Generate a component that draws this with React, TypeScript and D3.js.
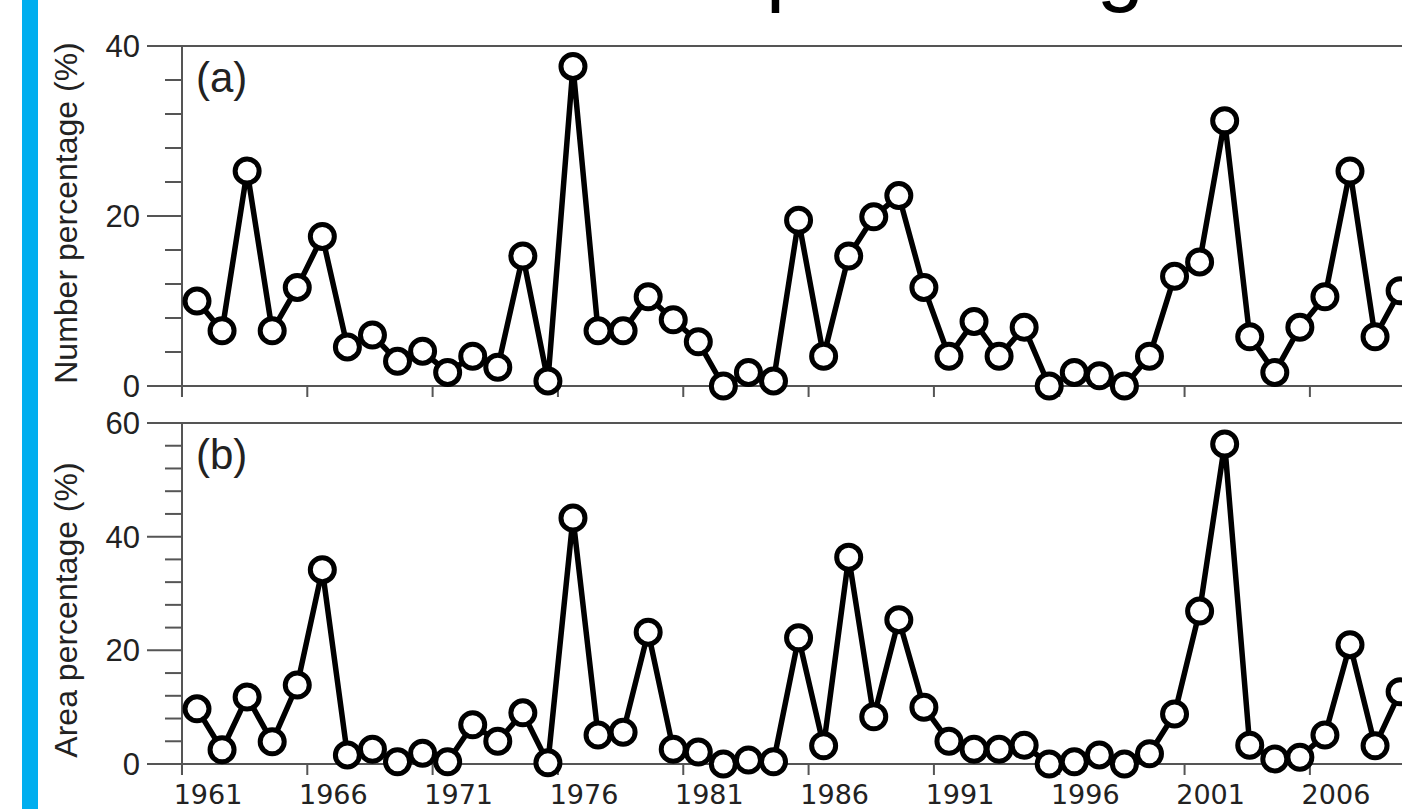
import React from 'react'
import * as d3 from 'd3'

// years on the category axis
const years = d3.range(1961, 2010)
const yearLabels = ['1961', '1966', '1971', '1976', '1981', '1986', '1991', '1996', '2001', '2006']

// (a) number percentage (%)
const numberPct = [
  10.0, 6.5, 25.3, 6.5, 11.6, 17.6, 4.6, 6.0, 2.9, 4.1,
  1.6, 3.5, 2.2, 15.3, 0.6, 37.6, 6.5, 6.5, 10.5, 7.8,
  5.2, 0.0, 1.6, 0.6, 19.5, 3.5, 15.3, 19.9, 22.4, 11.6,
  3.5, 7.6, 3.5, 6.9, 0.0, 1.6, 1.2, 0.0, 3.5, 12.9,
  14.6, 31.2, 5.8, 1.6, 6.9, 10.5, 25.3, 5.8, 11.2,
]

// (b) area percentage (%)
const areaPct = [
  9.7, 2.5, 11.8, 3.9, 13.9, 34.2, 1.6, 2.6, 0.4, 1.9,
  0.4, 6.9, 4.0, 9.0, 0.2, 43.3, 5.1, 5.6, 23.2, 2.6,
  2.1, 0.0, 0.7, 0.4, 22.2, 3.2, 36.4, 8.3, 25.4, 10.0,
  4.0, 2.6, 2.6, 3.3, 0.0, 0.4, 1.6, 0.0, 1.8, 8.8,
  26.9, 56.3, 3.3, 0.9, 1.2, 5.1, 21.0, 3.2, 12.7,
]

const majorA = [0, 20, 40]
const minorA = [4, 8, 12, 16, 24, 28, 32, 36]
const majorB = [0, 20, 40, 60]
const minorB = [4, 8, 12, 16, 24, 28, 32, 36, 44, 48, 52, 56]

const W = 1402
const H = 809
const axisColor = '#555'
const sans = 'Liberation Sans, Arial, sans-serif'
const x = d3.scaleLinear().domain([1961, 2007]).range([197, 1350])
const xLeft = 182

function Panel({ values, yScale, major, minor, tag, title, titleY, showLabels }) {
  const line = d3.line().x((d, i) => x(years[i])).y(d => yScale(d))
  const y0 = yScale(0)
  const yTop = yScale(yScale.domain()[1])
  return (
    <g>
      {/* frame */}
      <line x1={xLeft - 35} x2={W} y1={yTop} y2={yTop} stroke={axisColor} strokeWidth={2} />
      <line x1={xLeft - 35} x2={W} y1={y0} y2={y0} stroke={axisColor} strokeWidth={2} />
      <line x1={xLeft} x2={xLeft} y1={yTop} y2={y0 + 11} stroke={axisColor} strokeWidth={2} />
      {major.map(v => (
        <g key={'M' + v}>
          <line x1={xLeft - 35} x2={xLeft} y1={yScale(v)} y2={yScale(v)} stroke={axisColor} strokeWidth={2} />
          <text x={xLeft - 42} y={yScale(v)} dy="0.36em" textAnchor="end"
            fontFamily={sans} fontSize={31} fill="#222">{v}</text>
        </g>
      ))}
      {minor.map(v => (
        <line key={'m' + v} x1={xLeft - 17} x2={xLeft} y1={yScale(v)} y2={yScale(v)} stroke={axisColor} strokeWidth={2} />
      ))}
      {yearLabels.map(l => (
        <g key={l}>
          <line x1={x(+l - 0.6)} x2={x(+l - 0.6)} y1={y0} y2={y0 + 11} stroke={axisColor} strokeWidth={2} />
          {showLabels && (
            <text x={x(+l + 0.44)} y={y0 + 40} textAnchor="middle"
              fontFamily="DejaVu Sans, sans-serif" fontSize={27} fill="#222">{l}</text>
          )}
        </g>
      ))}
      <text x={196} y={yTop + 46} fontFamily={sans} fontSize={42} fill="#222">{tag}</text>
      <text transform={`translate(77,${titleY}) rotate(-90)`} textAnchor="middle"
        fontFamily={sans} fontSize={32} fill="#222">{title}</text>
      <path d={line(values)} fill="none" stroke="#000" strokeWidth={5.5} strokeLinejoin="round" />
      {values.map((v, i) => (
        <circle key={i} cx={x(years[i])} cy={yScale(v)} r={12} fill="#fff" stroke="#000" strokeWidth={5} />
      ))}
    </g>
  )
}

export default function App() {
  const yA = d3.scaleLinear().domain([0, 40]).range([386, 46])
  const yB = d3.scaleLinear().domain([0, 60]).range([764, 423])
  return (
    <svg width={W} height={H} style={{ position: 'absolute', left: 0, top: 0, background: '#fff' }}>
      <rect x={22} y={0} width={16} height={H} fill="#00AEEF" />
      <text x={766} y={-5} fontFamily={sans} fontSize={85} fill="#000">percentage</text>
      <Panel values={numberPct} yScale={yA} major={majorA} minor={minorA} tag="(a)"
        title="Number  percentage (%)" titleY={213} showLabels={false} />
      <Panel values={areaPct} yScale={yB} major={majorB} minor={minorB} tag="(b)"
        title="Area percentage (%)" titleY={610} showLabels={true} />
    </svg>
  )
}
